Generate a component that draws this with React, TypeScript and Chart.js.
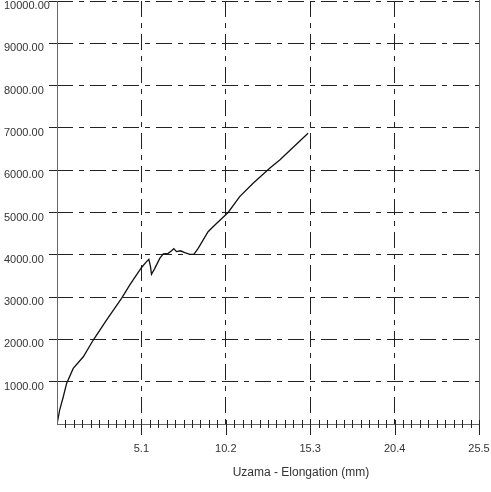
import React, { useEffect, useRef } from 'react';
import { Chart, registerables } from 'chart.js';

Chart.register(...registerables);

// Elongation (mm)
const elongation = [
  0, 0.16, 0.38, 0.58, 0.98, 1.59, 2.19, 3.0, 3.9, 4.4, 5.11, 5.41, 5.55, 5.65, 5.71,
  5.91, 6.21, 6.42, 6.72, 6.92, 7.06, 7.22, 7.46, 7.72, 8.03, 8.27, 8.53, 9.13, 9.43,
  10.34, 11.04, 11.85, 12.85, 13.46, 15.17,
];
// Force
const force = [
  0, 330, 645, 960, 1315, 1590, 1985, 2460, 2970, 3290, 3700, 3840, 3895, 3720, 3540,
  3680, 3915, 4020, 4035, 4095, 4145, 4075, 4095, 4050, 4010, 4010, 4150, 4545, 4665,
  5000, 5375, 5690, 6045, 6240, 6872,
];

const xMin = 0;
const xMax = 25.5;
const xMinorStep = 0.51;
const yMin = 0;
const yMax = 10000;
const yStep = 1000;
const xTitle = 'Uzama - Elongation (mm)';

const FONT = '"Liberation Sans", Arial, sans-serif';
const DASH = [16, 6, 5, 6];
const GRID = '#222';

export default function App() {
  const ref = useRef<HTMLCanvasElement | null>(null);

  useEffect(() => {
    document.body.style.margin = '0';
    const canvas = ref.current;
    if (!canvas) return;

    const decor = {
      id: 'decor',
      afterDraw(chart: any) {
        const { ctx, chartArea } = chart;
        const xs = chart.scales.x;
        ctx.save();
        ctx.strokeStyle = '#666';
        ctx.lineWidth = 1;
        ctx.setLineDash([]);
        ctx.beginPath();
        ctx.moveTo(chartArea.right + 0.5, 0);
        ctx.lineTo(chartArea.right + 0.5, chartArea.bottom);
        ctx.stroke();
        ctx.beginPath();
        ctx.moveTo(chartArea.left + 0.5, chartArea.top);
        ctx.lineTo(chartArea.left + 0.5, chartArea.bottom);
        ctx.moveTo(chartArea.left, chartArea.bottom + 0.5);
        ctx.lineTo(chartArea.right + 1, chartArea.bottom + 0.5);
        ctx.stroke();
        ctx.strokeStyle = '#222';
        xs.ticks.forEach((t: any, i: number) => {
          if (i === 0) return;
          const px = Math.round(xs.getPixelForValue(t.value)) + 0.5;
          ctx.beginPath();
          if (i % 10 === 0) {
            ctx.moveTo(px, chartArea.bottom - 4);
            ctx.lineTo(px, chartArea.bottom + 11);
          } else {
            ctx.moveTo(px, chartArea.bottom - 4);
            ctx.lineTo(px, chartArea.bottom + 4);
          }
          ctx.stroke();
        });
        ctx.fillStyle = '#333';
        ctx.font = '12px ' + FONT;
        ctx.textAlign = 'center';
        ctx.textBaseline = 'middle';
        ctx.fillText(xTitle, 301, 473);
        ctx.restore();
      },
    };

    const chart = new Chart(canvas, {
      type: 'line',
      data: {
        datasets: [
          {
            data: elongation.map((x, i) => ({ x, y: force[i] })),
            borderColor: '#111',
            borderWidth: 1.3,
            pointRadius: 0,
            tension: 0,
            fill: false,
          },
        ],
      },
      options: {
        responsive: false,
        animation: false,
        events: [],
        layout: { padding: { left: 4, top: 1, right: 12, bottom: 0 } },
        plugins: { legend: { display: false }, tooltip: { enabled: false }, title: { display: false } },
        scales: {
          x: {
            type: 'linear',
            min: xMin,
            max: xMax,
            afterBuildTicks(scale: any) {
              const ticks = [];
              for (let i = 0; i <= Math.round((xMax - xMin) / xMinorStep); i++) {
                ticks.push({ value: +(xMin + i * xMinorStep).toFixed(2) });
              }
              scale.ticks = ticks;
            },
            afterFit(scale: any) {
              scale.height = 68;
              scale.paddingLeft = 0;
              scale.paddingRight = 0;
            },
            border: { display: false, dash: DASH },
            grid: {
              drawTicks: false,
              color: (c: any) => (c.index % 10 === 0 && c.index > 0 && c.index < 50 ? GRID : 'rgba(0,0,0,0)'),
              lineWidth: 1,
            },
            ticks: {
              autoSkip: false,
              maxRotation: 0,
              padding: 18,
              color: '#333',
              font: { family: FONT, size: 11 },
              callback: (v: any, i: number) => (i % 10 === 0 && i > 0 ? Number(v).toFixed(1) : ''),
            },
          },
          y: {
            type: 'linear',
            min: yMin,
            max: yMax,
            afterFit(scale: any) {
              scale.width = 53;
              scale.paddingTop = 0;
              scale.paddingBottom = 0;
            },
            border: { display: false, dash: DASH },
            grid: {
              color: (c: any) => (c.tick && c.tick.value === 0 ? 'rgba(0,0,0,0)' : GRID),
              tickBorderDash: [8, 0],
              tickLength: 8,
              tickColor: (c: any) => (c.tick && c.tick.value === 0 ? 'rgba(0,0,0,0)' : GRID),
              lineWidth: 1,
            },
            ticks: {
              stepSize: yStep,
              crossAlign: 'far',
              labelOffset: 5,
              color: '#333',
              font: { family: FONT, size: 11 },
              callback: (v: any) => (Number(v) === 0 ? '' : Number(v).toFixed(2)),
            },
          },
        },
      },
      plugins: [decor],
    } as any);

    return () => chart.destroy();
  }, []);

  return (
    <div style={{ width: 491, height: 492 }}>
      <canvas ref={ref} width={491} height={492} style={{ display: 'block' }} />
    </div>
  );
}
